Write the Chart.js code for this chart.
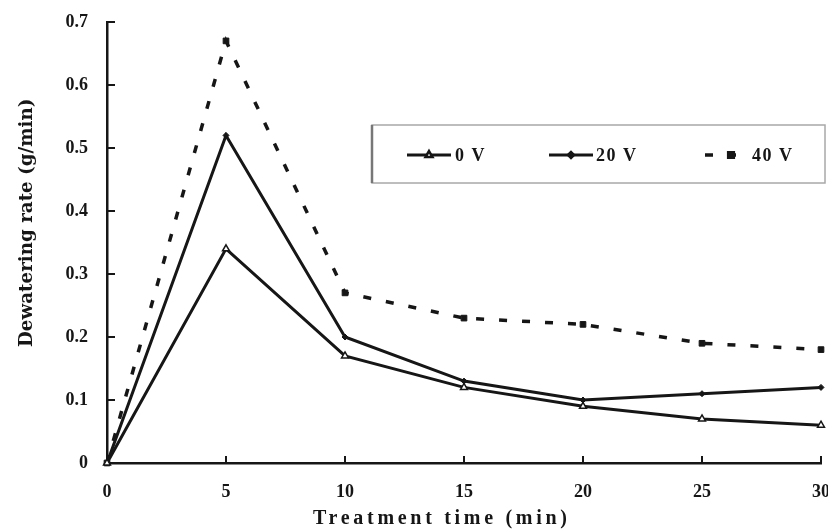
<!DOCTYPE html>
<html>
<head>
<meta charset="utf-8">
<script src="https://cdn.jsdelivr.net/npm/chart.js@4.4.1/dist/chart.umd.min.js"></script>
<style>
  html, body { margin: 0; padding: 0; background: #fff; }
</style>
</head>
<body>
<canvas id="graph" width="828" height="530"></canvas>
<script>
// data
var times   = [0, 5, 10, 15, 20, 25, 30];
var rate0V  = [0, 0.34, 0.17, 0.12, 0.09, 0.07, 0.06];
var rate20V = [0, 0.52, 0.20, 0.13, 0.10, 0.11, 0.12];
var rate40V = [0, 0.67, 0.27, 0.23, 0.22, 0.19, 0.18];
var seriesLabels = ['0 V', '20 V', '40 V'];
var xTitle = 'Treatment time (min)';
var yTitle = 'Dewatering rate (g/min)';

function toPoints(ys) {
    var pts = [];
    for (var i = 0; i < times.length; i++) {
        pts.push({ x: times[i], y: ys[i] });
    }
    return pts;
}

var ink = '#161616';
var serif = '"Liberation Serif", "Times New Roman", serif';

// inward ticks, axis titles and the boxed legend
var paperPlugin = {
    id: 'paper',
    afterDraw: function (chart) {
        var ctx = chart.ctx;
        var xs = chart.scales.x, ys = chart.scales.y, area = chart.chartArea;
        ctx.save();

        // tick marks pointing into the plot
        ctx.strokeStyle = ink;
        ctx.lineWidth = 2;
        xs.ticks.forEach(function (t) {
            if (t.value === 0) return;
            var px = xs.getPixelForValue(t.value);
            ctx.beginPath();
            ctx.moveTo(px, area.bottom);
            ctx.lineTo(px, area.bottom - 7);
            ctx.stroke();
        });
        ys.ticks.forEach(function (t) {
            if (t.value === 0) return;
            var py = ys.getPixelForValue(t.value);
            ctx.beginPath();
            ctx.moveTo(area.left, py);
            ctx.lineTo(area.left + 8, py);
            ctx.stroke();
        });

        // x title, widely spaced
        ctx.fillStyle = ink;
        ctx.font = 'bold 20px ' + serif;
        ctx.letterSpacing = '3.7px';
        ctx.textAlign = 'left';
        ctx.textBaseline = 'alphabetic';
        ctx.fillText(xTitle, 313, 524);

        // y title
        ctx.save();
        ctx.translate(32, 347);
        ctx.rotate(-Math.PI / 2);
        ctx.font = 'bold 18.3px "DejaVu Serif", serif';
        ctx.letterSpacing = '0px';
        ctx.textBaseline = 'alphabetic';
        ctx.fillText(yTitle, 0, 0);
        ctx.restore();

        // legend box
        var bx = 372, by = 125, bw = 453, bh = 58;
        ctx.letterSpacing = '0px';
        ctx.fillStyle = '#fff';
        ctx.fillRect(bx, by, bw, bh);
        ctx.strokeStyle = '#a8a8a8';
        ctx.lineWidth = 1.5;
        ctx.strokeRect(bx, by, bw, bh);
        ctx.strokeStyle = '#777';
        ctx.lineWidth = 2.5;
        ctx.beginPath();
        ctx.moveTo(bx, by);
        ctx.lineTo(bx, by + bh);
        ctx.stroke();

        var sampleX = [407, 549, 705];
        var sampleW = [44, 44, 34];
        var textX = [455, 596, 752];
        var ly = 155;
        chart.data.datasets.forEach(function (ds, i) {
            ctx.save();
            ctx.strokeStyle = ds.borderColor;
            ctx.lineWidth = ds.borderWidth;
            ctx.setLineDash(ds.borderDash || []);
            ctx.beginPath();
            ctx.moveTo(sampleX[i], ly);
            ctx.lineTo(sampleX[i] + sampleW[i], ly);
            ctx.stroke();
            ctx.restore();
            var mx = i === 2 ? sampleX[i] + 26 : sampleX[i] + sampleW[i] / 2;
            ctx.fillStyle = ds.pointBackgroundColor;
            ctx.strokeStyle = ds.pointBorderColor;
            Chart.helpers.drawPoint(ctx, {
                pointStyle: ds.pointStyle, rotation: 0,
                radius: ds.pointRadius, borderWidth: ds.pointBorderWidth
            }, mx, ly);
            ctx.fillStyle = ink;
            ctx.font = 'bold 18px ' + serif;
            ctx.letterSpacing = '1.5px';
            ctx.textAlign = 'left';
            ctx.textBaseline = 'middle';
            ctx.fillText(ds.label, textX[i], ly + 1);
        });

        ctx.restore();
    }
};

var ctx = document.getElementById('graph').getContext('2d');

window.myLine = new Chart(ctx, {
    type: 'line',
    data: {
        datasets: [
            {
                label: seriesLabels[0],
                data: toPoints(rate0V),
                borderColor: ink,
                borderWidth: 3,
                pointStyle: 'triangle',
                pointRadius: 4,
                pointBackgroundColor: '#fff',
                pointBorderColor: ink,
                pointBorderWidth: 1.5,
                tension: 0,
                clip: false,
            },
            {
                label: seriesLabels[1],
                data: toPoints(rate20V),
                borderColor: ink,
                borderWidth: 3,
                pointStyle: 'rectRot',
                pointRadius: 3,
                pointBackgroundColor: ink,
                pointBorderColor: ink,
                pointBorderWidth: 1,
                tension: 0,
                clip: false,
            },
            {
                label: seriesLabels[2],
                data: toPoints(rate40V),
                borderColor: ink,
                borderWidth: 3.5,
                borderDash: [8, 15],
                pointStyle: 'rect',
                pointRadius: 4,
                pointBackgroundColor: ink,
                pointBorderColor: ink,
                pointBorderWidth: 1,
                tension: 0,
                clip: false,
            },
        ]
    },
    options: {
        responsive: false,
        animation: false,
        layout: { padding: { top: 22, right: 7, bottom: 0, left: 0 } },
        plugins: {
            legend: { display: false },
            tooltip: { enabled: false },
        },
        scales: {
            x: {
                type: 'linear',
                min: 0,
                max: 30,
                grid: { display: false, drawTicks: false },
                border: { display: true, color: ink, width: 2.5 },
                ticks: {
                    stepSize: 5,
                    padding: 19,
                    color: ink,
                    font: { family: serif, size: 18, weight: 'bold' },
                },
                afterFit: function (scale) {
                    scale.height = 67;
                    scale.paddingLeft = 0;
                    scale.paddingRight = 0;
                },
            },
            y: {
                min: 0,
                max: 0.7,
                grid: { display: false, drawTicks: false },
                border: { display: true, color: ink, width: 2.5 },
                ticks: {
                    stepSize: 0.1,
                    padding: 19,
                    color: ink,
                    font: { family: serif, size: 18, weight: 'bold' },
                },
                afterFit: function (scale) {
                    scale.width = 107;
                    scale.paddingTop = 0;
                    scale.paddingBottom = 0;
                },
            },
        },
    },
    plugins: [paperPlugin],
});
</script>
</body>
</html>
